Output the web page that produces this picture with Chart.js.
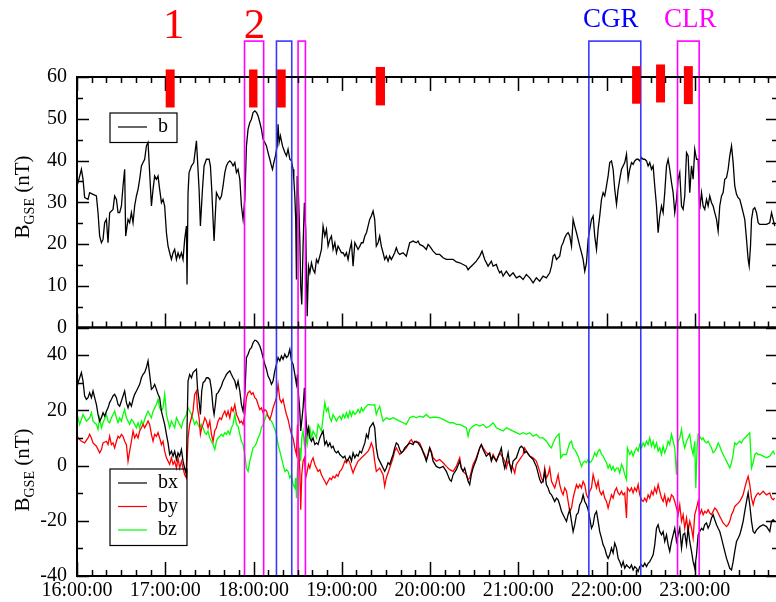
<!DOCTYPE html>
<html>
<head>
<meta charset="utf-8">
<script src="https://cdn.jsdelivr.net/npm/chart.js@4.4.1/dist/chart.umd.min.js"></script>
<style>
  html, body { margin: 0; padding: 0; background: #fff; overflow: hidden; }
</style>
</head>
<body>
<canvas id="c" width="790" height="602"></canvas>
<script>
// time in minutes after 16:00:00, field in nT
const b = [[0,33.9],[0.7,34.7],[3.0,37.9],[4.1,35.5],[5.2,31.1],[7.5,30.7],[8.6,32.3],[10.9,31.9],[13.2,31.5],[14.3,27.5],
  [15.4,21.9],[16.6,20.3],[17.7,21.1],[18.8,25.1],[20.0,25.9],[21.1,20.3],[22.2,27.5],[24.5,28.3],[25.6,31.5],[26.8,30.7],
  [27.9,27.5],[29.0,27.5],[30.2,29.1],[31.3,33.9],[32.4,37.9],[33.1,21.9],[34.7,25.9],[35.8,25.1],[37.0,27.5],[38.1,25.1],
  [39.2,29.1],[40.4,31.5],[41.5,33.1],[42.6,35.5],[43.8,38.7],[44.9,39.5],[46.0,40.3],[47.2,43.5],[48.3,44.3],[49.4,37.1],
  [50.6,29.1],[51.7,33.1],[52.8,36.3],[54.0,35.5],[55.1,36.3],[56.2,33.1],[57.4,29.9],[58.5,30.7],[59.6,29.1],[60.8,22.7],
  [61.9,19.5],[63.0,17.9],[64.2,16.3],[65.3,17.9],[66.4,18.7],[67.6,16.3],[68.7,17.9],[69.8,16.7],[71.0,17.9],[72.1,16.3],
  [73.2,21.1],[74.4,24.3],[74.8,10.3],[75.5,32.3],[76.2,37.1],[77.8,38.7],[79.4,39.5],[81.2,44.7],[81.9,40.3],[83.0,33.1],
  [83.9,24.3],[85.3,33.1],[86.4,38.7],[88.0,40.3],[89.8,40.3],[90.7,38.7],[91.6,33.1],[92.5,25.9],[93.2,20.7],[94.1,27.5],
  [94.8,32.3],[95.9,31.5],[97.1,30.7],[98.2,31.5],[99.3,33.9],[100.5,37.1],[101.6,38.7],[102.7,39.5],[103.9,39.9],[105.0,39.5],
  [106.1,38.7],[107.3,39.5],[108.4,37.1],[109.5,37.9],[110.7,35.5],[111.8,29.1],[112.9,25.9],[114.1,30.7],[115.2,43.5],[116.3,47.5],
  [117.5,49.1],[118.6,49.9],[119.7,51.5],[120.9,51.9],[122.0,51.5],[123.1,50.7],[124.3,49.1],[125.4,47.5],[126.5,45.1],[127.7,44.3],
  [128.8,43.5],[129.9,41.9],[131.1,40.3],[132.2,38.7],[132.9,37.9],[133.8,39.5],[134.9,41.1],[136.1,43.5],[136.7,48.7],[137.4,44.3],
  [138.3,45.9],[139.7,43.5],[141.3,41.9],[142.4,41.1],[143.5,42.7],[144.7,40.3],[145.8,39.9],[146.9,37.9],[147.4,35.5],[148.1,31.5],
  [148.7,25.9],[149.2,11.5],[149.7,36.3],[150.6,31.5],[151.5,21.1],[152.1,9.9],[152.8,5.5],[153.7,19.5],[154.6,29.9],[155.5,23.5],
  [156.5,2.7],[157.4,14.7],[158.3,13.1],[159.4,15.5],[160.5,13.9],[161.7,13.1],[162.8,16.3],[163.9,15.5],[165.1,17.1],[166.2,18.7],
  [167.3,24.3],[168.5,21.9],[169.6,23.5],[170.7,19.5],[171.9,21.1],[173.0,21.9],[174.1,18.7],[175.3,20.3],[176.4,17.9],[177.5,19.5],
  [178.7,18.7],[179.8,17.9],[180.9,17.9],[182.1,17.1],[183.2,17.9],[184.3,16.3],[185.5,18.7],[186.6,20.3],[187.7,14.7],[188.9,20.3],
  [190.0,19.5],[191.1,18.7],[192.3,19.5],[193.4,20.3],[194.5,20.3],[195.7,21.9],[196.8,22.7],[197.9,24.3],[199.0,25.9],[200.1,26.7],
  [201.3,27.9],[202.4,25.9],[203.5,19.5],[204.7,20.3],[205.8,21.9],[206.9,19.5],[208.1,17.9],[209.2,16.3],[210.3,17.1],[211.5,15.9],
  [212.6,17.1],[213.7,16.3],[214.9,17.1],[216.0,17.9],[217.1,19.1],[218.3,17.9],[219.4,17.5],[221.7,17.9],[223.9,17.1],[226.2,20.3],
  [228.5,20.7],[230.7,20.3],[231.9,20.7],[233.0,19.9],[235.3,19.5],[237.5,18.7],[238.7,19.9],[239.8,19.5],[242.1,18.3],[244.3,17.5],
  [246.6,17.5],[248.9,16.7],[251.1,16.3],[253.4,16.3],[255.7,16.3],[257.9,15.7],[260.2,15.5],[262.5,15.1],[264.7,14.7],[265.9,13.8],
  [267.0,14.3],[269.3,15.1],[271.5,15.9],[273.8,17.1],[275.4,18.3],[277.2,16.3],[279.5,14.7],[281.7,15.9],[282.9,14.7],[285.1,15.1],
  [286.3,13.9],[287.4,13.1],[288.5,13.5],[289.7,12.3],[291.9,13.5],[294.2,12.3],[296.5,13.1],[298.7,11.9],[301.0,12.3],[303.3,11.5],
  [305.5,12.7],[307.8,11.9],[310.1,10.7],[312.3,11.9],[314.6,11.1],[316.9,12.3],[319.1,11.9],[321.4,13.1],[322.6,14.7],[323.7,17.1],
  [324.8,17.5],[326.0,16.3],[328.2,17.1],[329.4,19.5],[330.5,20.3],[331.6,21.5],[332.8,22.3],[333.9,22.7],[335.0,21.9],[336.2,19.5],
  [337.3,25.9],[338.4,24.3],[339.6,22.7],[340.7,21.1],[341.8,19.5],[343.0,17.9],[344.1,16.3],[345.2,13.5],[346.4,15.5],[347.5,21.1],
  [348.6,23.5],[349.8,25.9],[350.9,26.7],[352.0,21.9],[353.2,18.7],[354.3,23.5],[355.4,26.7],[356.6,30.7],[357.7,32.3],[358.8,31.5],
  [360.0,33.9],[361.1,36.3],[362.2,39.5],[363.4,39.9],[364.5,37.9],[365.6,33.1],[366.8,29.5],[367.9,33.1],[369.0,35.5],[370.2,37.9],
  [371.3,38.7],[372.4,39.5],[373.6,41.5],[374.7,35.5],[375.8,37.9],[377.0,39.5],[378.1,39.1],[379.2,39.9],[380.4,40.3],[381.5,40.3],
  [382.6,39.9],[383.8,40.7],[384.9,40.3],[386.0,40.3],[387.2,39.9],[388.3,38.7],[389.4,39.5],[390.6,37.9],[391.7,38.7],[392.8,33.9],
  [394.0,29.1],[395.1,22.7],[396.2,26.7],[397.4,29.1],[398.5,27.5],[399.6,32.3],[400.8,38.7],[401.9,40.3],[403.0,37.9],[404.2,34.7],
  [405.3,32.3],[406.4,27.5],[407.6,30.7],[408.7,35.5],[409.8,37.1],[411.0,29.1],[412.1,28.3],[413.2,31.5],[414.4,41.9],[415.5,41.1],
  [416.6,32.3],[417.8,38.7],[418.9,35.5],[420.0,42.7],[421.2,40.3],[422.3,40.3],[423.4,28.3],[424.6,32.3],[425.7,29.1],[426.8,28.3],
  [428.0,30.7],[429.1,29.1],[430.2,31.5],[431.4,29.9],[432.5,29.1],[433.6,27.5],[434.8,25.9],[435.9,23.1],[437.0,29.1],[438.2,31.5],
  [439.3,32.3],[440.4,35.5],[441.6,35.9],[442.7,37.9],[443.8,41.1],[445.0,43.5],[446.1,39.5],[447.2,33.9],[448.4,31.9],[449.5,31.1],
  [450.6,30.7],[451.8,29.1],[452.9,27.5],[454.0,25.9],[455.2,21.1],[456.3,16.3],[457.0,14.7],[457.9,19.5],[458.6,25.9],[459.7,28.3],
  [460.8,28.7],[462.0,27.5],[463.1,25.1],[464.2,24.7],[466.5,24.7],[468.8,24.7],[471.0,25.1],[472.2,27.5],[473.3,25.9],[474.4,24.3]];

const bx = [[0,28.2],[0.7,30.0],[3.0,33.7],[4.1,30.6],[5.2,25.2],[6.4,24.0],[7.5,24.6],[8.6,26.4],[9.8,24.6],[10.9,27.0],
  [12.0,24.6],[13.2,22.1],[14.3,18.5],[15.4,16.1],[16.6,17.3],[17.7,19.1],[18.8,17.9],[20.0,19.7],[21.1,20.9],[22.2,22.8],
  [23.4,24.0],[24.5,25.2],[25.6,25.8],[26.8,24.6],[27.9,22.1],[29.0,21.5],[30.2,23.4],[31.3,25.2],[32.4,27.0],[33.6,22.8],
  [34.7,20.9],[35.8,22.8],[37.0,21.5],[38.1,24.0],[39.2,25.8],[40.4,27.0],[41.5,28.2],[42.6,29.4],[43.8,31.8],[44.9,33.0],
  [46.0,33.7],[47.2,35.5],[48.3,37.9],[49.4,33.0],[50.6,27.6],[51.7,28.2],[52.8,29.4],[54.0,27.6],[55.1,25.8],[56.2,24.6],
  [57.4,19.7],[58.5,17.3],[59.6,14.9],[60.8,11.3],[61.9,8.2],[63.0,4.0],[64.2,5.2],[65.3,3.4],[66.4,5.2],[67.6,2.2],
  [68.7,4.6],[69.8,3.4],[71.0,5.8],[72.1,1.6],[73.2,-0.9],[74.4,-3.3],[74.8,13.7],[75.5,30.6],[76.6,33.0],[77.8,31.8],
  [78.9,33.7],[80.0,34.3],[81.2,34.9],[81.9,28.2],[83.0,23.4],[83.9,18.5],[84.8,27.0],[85.7,30.0],[86.9,30.6],[88.0,31.8],
  [89.1,31.8],[90.3,31.2],[91.4,27.6],[92.5,20.9],[93.2,18.5],[94.1,22.1],[94.8,25.8],[95.9,26.4],[97.1,27.6],[98.2,28.8],
  [99.3,30.6],[100.5,31.8],[101.6,33.0],[102.7,33.7],[103.9,34.3],[105.0,33.0],[106.1,31.8],[107.3,30.6],[108.4,28.2],[109.5,30.6],
  [110.7,27.0],[111.8,22.1],[112.9,19.7],[114.1,25.8],[115.2,39.1],[116.3,40.3],[117.5,42.1],[118.6,42.7],[119.7,44.5],[120.9,45.4],
  [122.0,45.2],[123.1,44.5],[124.3,43.3],[125.4,41.5],[126.5,39.1],[127.7,36.7],[128.8,34.9],[129.9,32.4],[131.1,31.2],[132.2,29.4],
  [133.3,30.6],[134.5,34.3],[135.6,36.7],[136.7,39.1],[137.9,37.9],[139.0,39.7],[140.1,38.5],[141.3,40.3],[142.4,39.1],[143.5,39.7],
  [144.7,42.1],[145.8,37.9],[146.9,36.7],[148.1,33.0],[149.2,29.4],[149.9,33.0],[150.6,25.8],[151.5,19.7],[152.1,12.5],[152.8,16.1],
  [153.7,20.9],[154.6,28.2],[155.5,18.5],[156.5,11.3],[157.4,13.7],[158.3,10.0],[159.4,8.8],[160.5,10.0],[161.7,7.6],[162.8,8.2],
  [163.9,7.6],[165.1,10.0],[166.2,11.3],[167.3,12.5],[168.5,7.6],[169.6,8.8],[170.7,7.0],[171.9,8.2],[173.0,6.4],[174.1,7.0],
  [175.3,5.2],[176.4,4.6],[177.5,5.2],[178.7,4.0],[179.8,3.4],[180.9,2.8],[182.1,3.4],[183.2,1.6],[184.3,2.2],[185.5,3.4],
  [186.6,1.6],[187.7,4.6],[188.9,2.8],[190.0,4.0],[191.1,3.4],[192.3,5.2],[193.4,4.6],[194.5,6.4],[195.7,8.2],[196.8,11.3],
  [197.9,10.0],[199.0,13.7],[201.3,15.5],[202.4,13.7],[203.5,6.4],[204.7,2.8],[205.8,1.6],[208.1,-0.9],[209.2,-2.1],[210.3,-0.9],
  [211.5,1.0],[212.6,0.4],[213.7,2.2],[214.9,4.0],[216.0,6.4],[217.1,8.2],[218.3,7.6],[219.4,5.8],[220.5,4.6],[221.7,5.2],
  [222.8,6.4],[223.9,7.0],[226.2,8.2],[228.5,7.6],[229.6,8.8],[231.9,8.2],[234.1,6.4],[236.4,3.4],[237.5,1.6],[238.7,4.0],
  [239.8,6.4],[240.9,4.6],[242.1,1.6],[244.3,-0.3],[246.6,-0.9],[248.9,-0.3],[251.1,-2.1],[253.4,-5.1],[254.5,-5.7],[255.7,-3.3],
  [257.9,-1.5],[260.2,1.6],[261.3,-0.9],[262.5,-2.1],[263.6,-0.9],[265.9,-5.7],[267.0,-6.9],[268.1,-3.3],[269.3,-0.9],[271.5,2.2],
  [273.8,6.4],[274.9,7.6],[276.1,5.8],[278.3,3.4],[280.6,4.6],[281.7,1.6],[282.9,3.4],[285.1,1.6],[287.4,4.6],[288.5,6.4],
  [289.7,1.6],[290.8,-0.9],[291.9,1.6],[293.1,4.6],[294.2,0.4],[295.3,-2.1],[296.5,1.6],[298.7,2.8],[301.0,6.4],[302.1,7.0],
  [303.3,6.4],[304.4,4.6],[305.5,5.2],[307.8,3.4],[310.1,2.2],[312.3,-0.3],[314.6,-5.1],[315.7,-6.3],[316.9,-5.7],[318.0,-2.1],
  [319.1,-6.9],[320.3,-8.1],[321.4,-9.9],[322.6,-10.6],[323.7,-11.8],[324.8,-13.0],[326.0,-11.8],[327.1,-12.4],[328.2,-14.2],[329.4,-16.6],
  [330.5,-17.8],[331.6,-19.0],[332.8,-20.2],[333.9,-17.8],[335.0,-16.0],[336.2,-20.2],[337.3,-23.9],[338.4,-21.4],[339.6,-17.8],[340.7,-17.2],
  [341.8,-14.2],[343.0,-13.0],[344.1,-10.6],[345.2,-13.0],[346.4,-14.2],[347.5,-16.0],[348.6,-19.0],[349.8,-22.7],[350.9,-21.4],[352.0,-17.8],
  [353.2,-16.6],[354.3,-20.2],[355.4,-23.9],[356.6,-26.3],[357.7,-28.7],[358.8,-29.9],[360.0,-32.3],[361.1,-33.6],[362.2,-32.3],[363.4,-29.9],
  [364.5,-31.7],[365.6,-28.1],[366.8,-29.9],[367.9,-33.6],[369.0,-34.8],[370.2,-36.6],[371.3,-34.8],[372.4,-37.2],[373.6,-36.0],[374.7,-36.6],
  [375.8,-37.2],[377.0,-36.0],[378.1,-37.8],[379.2,-36.6],[380.4,-37.2],[381.5,-38.4],[382.6,-36.6],[383.8,-36.0],[384.9,-36.6],[386.0,-35.4],
  [387.2,-36.6],[388.3,-35.4],[389.4,-34.8],[390.6,-33.6],[391.7,-32.3],[392.8,-28.7],[394.0,-22.7],[395.1,-21.4],[396.2,-23.9],[397.4,-25.1],
  [398.5,-23.9],[399.6,-27.5],[400.8,-25.1],[401.9,-28.7],[403.0,-31.1],[404.2,-27.5],[405.3,-25.1],[406.4,-22.7],[407.6,-27.5],[408.7,-25.1],
  [409.8,-22.7],[411.0,-29.9],[412.1,-25.1],[413.2,-24.5],[414.4,-28.7],[415.5,-22.7],[416.6,-27.5],[417.8,-31.1],[418.9,-34.8],[420.0,-37.2],
  [421.2,-32.3],[422.3,-25.1],[423.4,-23.9],[424.6,-22.7],[425.7,-23.3],[426.8,-21.4],[428.0,-20.8],[429.1,-22.7],[430.2,-21.4],[431.4,-19.0],
  [432.5,-17.8],[433.6,-19.6],[434.8,-21.4],[435.9,-22.7],[437.0,-23.9],[438.2,-26.3],[439.3,-28.7],[440.4,-31.1],[441.6,-33.6],[442.7,-35.4],
  [443.8,-37.2],[445.0,-37.8],[446.1,-34.8],[447.2,-31.1],[448.4,-27.5],[449.5,-26.3],[450.6,-25.1],[451.8,-22.7],[452.9,-20.2],[454.0,-16.6],
  [455.2,-13.0],[456.3,-9.9],[457.4,-14.2],[458.6,-20.2],[459.7,-23.9],[460.8,-24.5],[462.0,-23.3],[463.1,-22.7],[464.2,-22.1],[466.5,-21.4],
  [468.8,-22.1],[471.0,-23.9],[472.2,-20.2],[473.3,-19.6],[474.4,-20.2]];

const by = [[0,11.3],[0.7,10.0],[3.0,8.8],[5.2,8.2],[7.5,10.0],[8.6,11.3],[9.8,10.0],[10.9,8.2],[13.2,7.0],[15.4,4.6],
  [16.6,5.8],[17.7,8.2],[20.0,8.8],[21.1,7.6],[22.2,10.6],[23.4,7.6],[24.5,8.2],[25.6,6.4],[26.8,8.8],[27.9,10.6],
  [29.0,10.0],[30.2,11.3],[31.3,10.6],[32.4,8.8],[33.6,7.6],[34.7,1.6],[35.8,5.2],[37.0,8.8],[38.1,12.5],[39.2,10.0],
  [40.4,11.3],[41.5,10.0],[42.6,12.5],[43.8,13.7],[44.9,14.9],[46.0,13.7],[47.2,14.9],[48.3,16.1],[49.4,14.9],[50.6,11.3],
  [51.7,8.8],[52.8,11.3],[54.0,10.6],[55.1,11.9],[56.2,10.0],[57.4,7.6],[58.5,8.8],[59.6,5.2],[60.8,2.8],[61.9,1.6],
  [63.0,0.4],[64.2,2.8],[65.3,0.4],[66.4,1.6],[67.6,-0.9],[68.7,2.8],[69.8,-0.9],[71.0,1.6],[72.1,-0.9],[73.2,-3.3],
  [74.4,-4.5],[75.5,10.0],[76.6,14.9],[77.8,17.3],[78.9,19.7],[80.0,25.8],[81.2,27.0],[81.9,20.9],[83.0,17.3],[83.9,11.3],
  [84.8,13.7],[85.7,14.9],[86.9,17.3],[88.0,16.1],[89.1,13.7],[90.3,16.1],[91.4,11.3],[92.5,8.8],[93.6,12.5],[94.8,13.7],
  [95.9,16.1],[97.1,17.3],[98.2,16.7],[99.3,18.5],[100.5,19.7],[101.6,17.9],[102.7,19.7],[103.9,17.3],[105.0,20.9],[106.1,19.7],
  [107.3,22.1],[108.4,18.5],[109.5,17.3],[110.7,15.5],[111.8,16.1],[112.9,14.9],[114.1,18.5],[115.2,24.6],[116.3,26.4],[117.5,27.0],
  [118.6,25.8],[119.7,26.4],[120.9,24.6],[122.0,24.0],[123.1,22.1],[124.3,20.3],[125.4,20.9],[126.5,19.1],[127.7,20.3],[128.8,19.7],
  [129.9,17.9],[131.1,16.7],[132.2,18.5],[133.3,20.9],[134.5,22.8],[135.6,24.6],[136.7,29.4],[137.9,24.0],[139.0,22.8],[140.1,24.0],
  [141.3,20.9],[142.4,18.5],[143.5,16.7],[144.7,13.7],[145.8,11.3],[146.9,10.0],[148.1,6.4],[149.2,4.0],[149.9,14.9],[150.6,7.6],
  [151.5,-2.1],[152.1,-16.0],[152.8,-3.3],[153.7,1.6],[154.6,2.8],[155.5,-4.5],[156.5,-2.1],[157.4,0.4],[158.3,-0.9],[159.4,1.6],
  [160.5,2.8],[161.7,0.4],[162.8,-0.9],[163.9,-2.1],[165.1,-1.5],[166.2,-3.3],[167.3,-4.5],[168.5,-5.7],[169.6,-6.9],[170.7,-5.7],
  [171.9,-4.5],[173.0,-5.1],[174.1,-3.9],[175.3,-4.5],[176.4,-3.3],[177.5,-3.9],[178.7,-2.1],[179.8,-1.5],[180.9,-0.2],[182.1,1.6],
  [183.2,1.0],[184.3,2.2],[185.5,1.0],[186.6,-0.9],[187.7,-2.7],[188.9,-0.9],[190.0,0.4],[191.1,1.6],[192.3,2.2],[193.4,2.8],
  [194.5,3.4],[195.7,4.0],[196.8,4.6],[197.9,5.2],[199.0,6.4],[200.1,8.2],[201.3,6.4],[202.4,1.6],[203.5,-2.1],[205.8,-0.9],
  [208.1,-3.3],[209.2,-7.5],[210.3,-4.5],[212.6,-0.9],[214.9,2.8],[216.0,5.2],[217.1,6.4],[218.3,5.2],[219.4,4.0],[221.7,5.2],
  [223.9,6.4],[226.2,8.8],[227.3,9.4],[228.5,8.2],[230.7,8.8],[233.0,8.2],[235.3,5.2],[236.4,4.0],[237.5,2.2],[238.7,4.0],
  [239.8,6.4],[240.9,5.2],[242.1,2.8],[244.3,1.6],[246.6,2.2],[248.9,1.0],[251.1,-0.3],[253.4,-1.5],[255.7,-2.1],[257.9,-0.3],
  [260.2,2.8],[261.3,-0.9],[262.5,-2.1],[264.7,-3.3],[265.9,-5.1],[267.0,-4.5],[268.1,-2.1],[269.3,0.4],[271.5,2.8],[273.8,6.4],
  [274.9,7.6],[276.1,6.4],[278.3,4.6],[280.6,4.0],[281.7,2.2],[282.9,4.0],[285.1,1.6],[286.3,3.4],[287.4,4.6],[289.7,2.8],
  [290.8,1.6],[291.9,-0.9],[293.1,1.6],[294.2,0.4],[296.5,-0.9],[297.6,-2.7],[298.7,0.4],[301.0,2.2],[303.3,4.0],[304.4,6.4],
  [305.5,5.2],[307.8,3.4],[310.1,2.8],[312.3,1.6],[314.6,-2.1],[315.7,-4.5],[316.9,-5.7],[318.0,-0.9],[319.1,-4.5],[320.3,-3.3],
  [321.4,-0.9],[322.6,-5.7],[323.7,-6.9],[324.8,-8.1],[326.0,-5.7],[327.1,-3.3],[328.2,-6.9],[329.4,-9.3],[330.5,-10.6],[331.6,-8.1],
  [332.8,-9.3],[333.9,-13.0],[335.0,-16.6],[336.2,-15.4],[337.3,-11.8],[338.4,-9.3],[339.6,-6.9],[340.7,-8.1],[341.8,-6.9],[343.0,-8.1],
  [344.1,-5.7],[345.2,-6.9],[346.4,-10.6],[347.5,-11.8],[348.6,-9.3],[349.8,-8.1],[350.9,-3.3],[352.0,-5.7],[353.2,-8.1],[354.3,-5.7],
  [355.4,-9.3],[356.6,-10.6],[357.7,-9.3],[358.8,-11.8],[360.0,-13.0],[361.1,-15.4],[362.2,-13.0],[363.4,-10.6],[364.5,-11.8],[365.6,-9.3],
  [366.8,-8.1],[367.9,-9.9],[369.0,-10.6],[370.2,-9.3],[371.3,-10.6],[372.4,-9.9],[373.6,-19.0],[374.2,-8.1],[375.8,-9.3],[377.0,-8.1],
  [378.1,-9.9],[379.2,-8.1],[380.4,-9.3],[381.5,-6.9],[382.6,-10.6],[383.8,-12.4],[384.9,-13.0],[386.0,-11.8],[387.2,-13.0],[388.3,-10.6],
  [389.4,-11.8],[390.6,-9.3],[391.7,-10.6],[392.8,-8.1],[394.0,-9.9],[395.1,-6.9],[396.2,-9.3],[397.4,-11.8],[398.5,-13.0],[399.6,-10.6],
  [400.8,-14.2],[401.9,-11.8],[403.0,-13.0],[404.2,-10.6],[405.3,-11.2],[406.4,-13.0],[407.6,-15.4],[408.7,-17.8],[409.8,-14.2],[411.0,-20.2],
  [412.1,-17.8],[413.2,-22.7],[414.4,-19.0],[415.5,-23.9],[416.6,-20.2],[417.8,-22.7],[418.9,-26.3],[420.0,-17.8],[421.2,-15.4],[422.3,-13.0],
  [423.4,-17.8],[424.6,-16.0],[425.7,-17.8],[426.8,-16.6],[428.0,-17.2],[429.1,-16.0],[430.2,-17.2],[431.4,-17.8],[432.5,-16.6],[433.6,-15.4],
  [434.8,-16.0],[435.9,-17.2],[437.0,-18.4],[438.2,-19.6],[439.3,-20.8],[440.4,-21.4],[441.6,-22.1],[442.7,-21.4],[443.8,-20.2],[445.0,-17.8],
  [446.1,-16.6],[447.2,-14.8],[448.4,-14.2],[449.5,-13.6],[450.6,-13.0],[451.8,-11.8],[452.9,-10.6],[454.0,-8.1],[455.2,-5.7],[456.3,-3.9],
  [457.4,-6.9],[458.6,-11.8],[459.7,-14.2],[460.8,-11.8],[462.0,-10.6],[463.1,-9.9],[464.2,-10.6],[466.5,-9.3],[468.8,-10.6],[471.0,-9.9],
  [472.2,-11.8],[473.3,-12.4],[474.4,-11.8]];

const bz = [[0,14.9],[0.7,17.3],[1.8,14.9],[4.1,18.5],[6.4,16.1],[8.6,17.3],[9.8,19.1],[10.9,16.1],[13.2,14.9],[14.3,13.1],
  [15.4,17.3],[16.6,13.7],[17.7,15.5],[20.0,18.5],[21.1,16.1],[22.2,15.5],[23.4,17.3],[24.5,18.5],[25.6,19.7],[26.8,17.3],
  [27.9,15.5],[29.0,17.3],[30.2,16.1],[31.3,18.5],[32.4,20.3],[33.6,17.3],[34.7,16.1],[35.8,14.9],[37.0,16.7],[38.1,16.1],
  [39.2,14.9],[40.4,13.7],[41.5,15.5],[42.6,13.7],[43.8,16.1],[44.9,14.9],[46.0,16.7],[47.2,18.5],[48.3,19.7],[49.4,18.5],
  [50.6,17.3],[51.7,19.7],[52.8,20.9],[54.0,22.1],[55.1,24.0],[56.2,20.9],[57.4,19.7],[58.5,20.9],[59.6,25.8],[60.3,22.1],
  [60.8,18.5],[61.9,16.1],[63.0,13.7],[64.2,16.1],[65.3,14.9],[66.4,13.7],[67.6,17.3],[68.7,16.1],[69.8,14.9],[71.0,13.7],
  [72.1,16.1],[73.2,17.3],[74.4,18.5],[75.5,20.9],[76.6,19.7],[77.8,18.5],[78.9,16.7],[80.0,14.9],[81.2,16.1],[82.3,14.9],
  [83.4,13.7],[84.6,14.9],[85.7,13.7],[86.9,11.9],[88.0,11.3],[89.1,12.5],[90.3,10.0],[91.4,8.8],[92.5,7.6],[93.7,5.8],
  [94.8,8.8],[95.9,10.0],[97.1,10.6],[98.2,11.3],[99.3,10.6],[100.5,11.9],[101.6,11.3],[102.7,12.5],[103.9,11.3],[105.0,13.7],
  [106.1,14.9],[107.3,18.5],[108.4,14.9],[109.5,14.3],[110.7,11.3],[111.8,8.8],[112.9,7.6],[114.1,4.0],[115.2,-0.9],[116.3,-2.1],
  [117.5,1.6],[118.6,4.0],[119.7,6.4],[120.9,7.0],[122.0,8.2],[123.1,10.0],[124.3,11.3],[125.4,13.7],[126.5,14.9],[127.7,16.7],
  [128.8,18.5],[129.9,17.9],[131.1,16.7],[132.2,16.1],[133.3,14.9],[134.5,13.1],[135.6,11.3],[136.7,7.6],[137.9,5.2],[139.0,2.8],
  [140.1,0.4],[141.3,-2.1],[142.4,-1.5],[143.5,-2.1],[144.7,-4.5],[145.8,-3.3],[146.9,-6.9],[148.1,-8.1],[148.7,-4.5],[149.2,-11.8],
  [149.9,-0.9],[150.6,1.6],[151.5,6.4],[152.1,1.6],[152.8,10.0],[153.7,12.5],[154.6,7.6],[155.5,11.3],[156.5,7.6],[157.4,11.3],
  [158.3,13.7],[159.4,10.0],[160.5,12.5],[161.7,11.3],[162.8,10.0],[163.9,14.9],[165.1,13.7],[166.2,12.5],[167.3,17.3],[168.5,22.8],
  [169.6,19.7],[170.7,20.9],[171.9,17.3],[173.0,16.1],[174.1,18.5],[175.3,17.3],[176.4,16.1],[177.5,17.3],[178.7,17.9],[179.8,16.7],
  [180.9,18.5],[182.1,17.3],[183.2,19.1],[184.3,17.3],[185.5,19.7],[186.6,17.9],[187.7,19.7],[188.9,18.5],[190.0,19.1],[191.1,20.3],
  [192.3,19.1],[193.4,20.9],[194.5,19.7],[195.7,20.9],[196.8,21.5],[197.9,22.1],[199.0,22.1],[201.3,21.9],[202.4,22.1],[203.5,18.5],
  [204.7,20.3],[205.8,21.5],[206.9,18.5],[208.1,16.1],[210.3,17.3],[212.6,16.7],[214.9,17.3],[217.1,16.7],[219.4,16.1],[221.7,15.5],
  [223.9,14.9],[226.2,17.3],[228.5,17.9],[230.7,17.3],[233.0,17.9],[235.3,17.5],[237.5,18.5],[239.8,17.3],[242.1,17.5],[244.3,17.5],
  [246.6,17.3],[248.9,16.7],[251.1,16.1],[253.4,15.5],[255.7,15.5],[257.9,14.9],[260.2,14.9],[262.5,14.3],[264.7,13.7],[265.9,10.6],
  [267.0,13.1],[269.3,14.3],[271.5,14.9],[273.8,14.3],[276.1,14.9],[278.3,13.7],[280.6,14.3],[282.9,15.5],[285.1,13.7],[287.4,13.1],
  [289.7,12.5],[291.9,13.7],[294.2,13.1],[296.5,12.5],[298.7,11.9],[301.0,11.3],[303.3,11.9],[305.5,11.3],[307.8,11.9],[310.1,10.6],
  [312.3,11.3],[314.6,10.0],[316.9,10.0],[319.1,8.8],[321.4,7.0],[322.6,6.4],[323.7,8.2],[326.0,10.6],[327.8,11.5],[328.9,2.8],
  [330.5,4.0],[332.8,4.0],[333.9,6.4],[335.0,8.2],[336.2,8.8],[337.3,6.4],[338.4,5.8],[339.6,4.6],[340.7,3.4],[341.8,1.6],
  [343.0,-0.3],[344.1,1.0],[345.2,1.6],[346.4,1.0],[347.5,2.2],[348.6,1.0],[349.8,1.6],[350.9,2.8],[352.0,4.6],[353.2,3.4],
  [354.3,5.2],[355.4,5.8],[356.6,4.0],[357.7,3.4],[358.8,2.2],[360.0,1.0],[361.1,-0.9],[362.2,0.4],[363.4,-1.5],[364.5,-0.3],
  [365.6,-2.1],[366.8,-0.9],[367.9,-0.9],[369.0,-2.7],[370.2,0.4],[371.3,-0.9],[372.4,-3.3],[373.6,-5.1],[374.2,6.4],[375.8,4.0],
  [377.0,5.2],[378.1,3.4],[379.2,5.2],[380.4,6.4],[381.5,5.2],[382.6,7.6],[383.8,6.4],[384.9,8.2],[386.0,7.0],[387.2,8.8],
  [388.3,7.6],[389.4,10.0],[390.6,7.0],[391.7,8.8],[392.8,6.4],[394.0,8.2],[395.1,5.2],[396.2,6.4],[397.4,4.0],[398.5,7.0],
  [399.6,4.6],[400.8,6.4],[401.9,8.8],[403.0,7.6],[404.2,11.3],[405.3,8.8],[406.4,6.4],[407.6,-3.3],[408.7,8.8],[409.8,10.0],
  [411.0,13.1],[412.1,8.8],[413.2,6.4],[414.4,8.8],[415.5,10.0],[416.6,11.3],[417.8,6.4],[418.9,4.0],[420.0,8.8],[420.7,-8.1],
  [421.6,6.4],[422.3,11.3],[423.4,10.6],[424.6,9.4],[425.7,10.0],[426.8,8.8],[428.0,8.2],[429.1,8.8],[430.2,7.6],[431.4,6.4],
  [432.5,4.6],[433.6,5.2],[434.8,6.4],[435.9,8.2],[437.0,7.0],[438.2,5.2],[439.3,4.0],[440.4,2.8],[441.6,1.6],[442.7,0.4],
  [443.8,-0.9],[445.0,1.0],[446.1,4.0],[447.2,8.2],[448.4,7.6],[449.5,8.2],[450.6,8.8],[451.8,8.2],[452.9,9.4],[454.0,10.0],
  [455.2,10.6],[456.3,11.3],[457.4,11.9],[458.6,-0.9],[459.7,1.0],[460.8,4.0],[462.0,4.6],[463.1,4.0],[464.2,4.0],[466.5,3.4],
  [468.8,2.8],[471.0,3.4],[473.3,5.2],[474.4,4.0]];

// red marks: start, end (minutes), low, high (nT on the top scale)
const marks = [[60.3,66.4,52.7,61.8],[117.0,122.7,52.7,61.8],[136.0,141.9,52.7,61.8],[203.1,209.4,53.2,62.4],
  [377.4,383.3,53.6,62.6],[393.7,399.8,53.9,63.0],[412.6,418.7,53.5,62.6]];
// intervals: start, end (minutes)
const boxes = [[113.9,126.9,'#ff00ff'],[135.6,146.0,'#3838ff'],[150.3,155.3,'#ff00ff'],
  [348.0,383.3,'#3838ff'],[408.3,423.0,'#ff00ff']];
const boxTop = 68.6;
const tags = [['1',65.8,'#ff0000'],['2',120.6,'#ff0000'],['CGR',362.9,'#0000ff'],['CLR',416.9,'#ff00ff']];
const hourTicks = [0, 60, 120, 180, 240, 300, 360, 420];

const serif = '"Liberation Serif", "DejaVu Serif", serif';
const pts = a => a.map(p => ({x: p[0], y: p[1]}));

function yTitle(ctx, cx, cy) {
  const big = '21px ' + serif, small = '14px ' + serif;
  ctx.font = big;
  const wB = ctx.measureText('B').width, wU = ctx.measureText(' (nT)').width;
  ctx.font = small;
  const wS = ctx.measureText('GSE').width;
  ctx.save();
  ctx.translate(cx, cy);
  ctx.rotate(-Math.PI / 2);
  ctx.fillStyle = '#000';
  ctx.textAlign = 'left';
  ctx.textBaseline = 'alphabetic';
  let p = -(wB + wS + wU) / 2;
  ctx.font = big; ctx.fillText('B', p, 0); p += wB;
  ctx.font = small; ctx.fillText('GSE', p, 5); p += wS;
  ctx.font = big; ctx.fillText(' (nT)', p, 0);
  ctx.restore();
}

function legendBox(ctx, x, y, w, rows, chart) {
  ctx.lineWidth = 1.2;
  ctx.strokeStyle = '#000';
  ctx.strokeRect(x, y, w, rows.length * 23.5 + 6);
  ctx.font = '20px ' + serif;
  ctx.textBaseline = 'middle';
  ctx.textAlign = 'left';
  rows.forEach((i, k) => {
    const ds = chart.data.datasets[i];
    const yy = y + 14 + k * 23.5;
    ctx.strokeStyle = ds.borderColor;
    ctx.beginPath(); ctx.moveTo(x + 8, yy); ctx.lineTo(x + 37, yy); ctx.stroke();
    ctx.fillStyle = '#000';
    ctx.fillText(ds.label, x + 48, yy);
  });
}

const decor = {
  id: 'decor',
  afterDraw(chart) {
    const ctx = chart.ctx;
    const xs = chart.scales.x, yt = chart.scales.yTop, yb = chart.scales.yBot;
    const L = chart.chartArea.left, R = chart.chartArea.right;
    const T = yt.getPixelForValue(60), M = yt.getPixelForValue(0), B = yb.getPixelForValue(-40);
    ctx.save();

    // interval boxes
    ctx.lineWidth = 1.6;
    boxes.forEach(bx_ => {
      const x1 = xs.getPixelForValue(bx_[0]), x2 = xs.getPixelForValue(bx_[1]);
      const y1 = yt.getPixelForValue(boxTop);
      ctx.strokeStyle = bx_[2];
      ctx.strokeRect(x1, y1, x2 - x1, B - y1);
    });

    // frame
    ctx.strokeStyle = '#000';
    ctx.lineWidth = 2;
    ctx.strokeRect(L, T, R - L, M - T);
    ctx.strokeRect(L, M, R - L, B - M);

    // x ticks, pointing into the panels
    ctx.lineWidth = 1.5;
    ctx.beginPath();
    for (let m = 0; m <= xs.max; m += 10) {
      const px = Math.round(xs.getPixelForValue(m)) + 0.5;
      const len = m % 60 === 0 ? 14 : 6;
      ctx.moveTo(px, M); ctx.lineTo(px, M - len);
      ctx.moveTo(px, B); ctx.lineTo(px, B - len);
      ctx.moveTo(px, T); ctx.lineTo(px, T + len);
    }
    // y ticks on both sides
    for (let v = 0; v <= 60; v += 5) {
      const py = Math.round(yt.getPixelForValue(v)) + 0.5;
      const len = v % 10 === 0 ? 12 : 6;
      ctx.moveTo(L, py); ctx.lineTo(L + len, py);
      ctx.moveTo(R, py); ctx.lineTo(R - len, py);
    }
    for (let v = -40; v <= 50; v += 10) {
      const py = Math.round(yb.getPixelForValue(v)) + 0.5;
      const len = v % 20 === 0 ? 12 : 6;
      ctx.moveTo(L, py); ctx.lineTo(L + len, py);
      ctx.moveTo(R, py); ctx.lineTo(R - len, py);
    }
    ctx.stroke();

    // red marks
    ctx.fillStyle = '#ff0000';
    marks.forEach(mk => {
      const x1 = xs.getPixelForValue(mk[0]), x2 = xs.getPixelForValue(mk[1]);
      const y1 = yt.getPixelForValue(mk[3]), y2 = yt.getPixelForValue(mk[2]);
      ctx.fillRect(x1, y1, x2 - x1, y2 - y1);
    });

    // event labels
    ctx.textAlign = 'center';
    ctx.textBaseline = 'alphabetic';
    tags.forEach(tg => {
      const isNum = tg[0].length === 1;
      ctx.font = (isNum ? '43px ' : '27px ') + serif;
      ctx.fillStyle = tg[2];
      ctx.fillText(tg[0], xs.getPixelForValue(tg[1]), isNum ? 38 : 27);
    });

    // legends
    legendBox(ctx, 110, 113, 67, [0], chart);
    legendBox(ctx, 110, 469, 77, [1, 2, 3], chart);

    // axis titles
    yTitle(ctx, 29, 197);
    yTitle(ctx, 29, 470);
    ctx.restore();
  }
};

const tickFont = { family: serif, size: 20 };
new Chart(document.getElementById('c'), {
  type: 'line',
  data: {
    datasets: [
      { label: 'b', data: pts(b), yAxisID: 'yTop', borderColor: '#000000' },
      { label: 'bx', data: pts(bx), yAxisID: 'yBot', borderColor: '#000000' },
      { label: 'by', data: pts(by), yAxisID: 'yBot', borderColor: '#ff0000' },
      { label: 'bz', data: pts(bz), yAxisID: 'yBot', borderColor: '#00ff00' }
    ]
  },
  options: {
    responsive: false,
    animation: false,
    elements: { point: { radius: 0 }, line: { tension: 0, borderWidth: 1.3 } },
    layout: { padding: { top: 77, right: 12, left: 0, bottom: 0 } },
    plugins: { legend: { display: false }, tooltip: { enabled: false } },
    scales: {
      x: {
        type: 'linear', min: 0, max: 476.6,
        grid: { display: false, drawTicks: false }, border: { display: false },
        afterBuildTicks(s) { s.ticks = hourTicks.map(v => ({ value: v })); },
        ticks: {
          autoSkip: false, maxRotation: 0,
          font: tickFont, color: '#000', padding: 3,
          callback: v => (16 + Math.round(v / 60)) + ':00:00'
        },
        afterFit(s) { s.height = 26; s.paddingRight = 0; }
      },
      yTop: {
        type: 'linear', position: 'left', stack: 'panels', stackWeight: 250, weight: 1,
        min: 0, max: 60,
        grid: { display: false, drawTicks: false }, border: { display: false },
        ticks: { stepSize: 10, autoSkip: false, font: tickFont, color: '#000', padding: 10 },
        afterFit(s) { s.width = 77; }
      },
      yBot: {
        type: 'linear', position: 'left', stack: 'panels', stackWeight: 248, weight: 0,
        min: -40, max: 50,
        grid: { display: false, drawTicks: false }, border: { display: false },
        ticks: { stepSize: 20, autoSkip: false, includeBounds: false, font: tickFont, color: '#000', padding: 10 },
        afterFit(s) { s.width = 77; }
      }
    }
  },
  plugins: [decor]
});
</script>
</body>
</html>
